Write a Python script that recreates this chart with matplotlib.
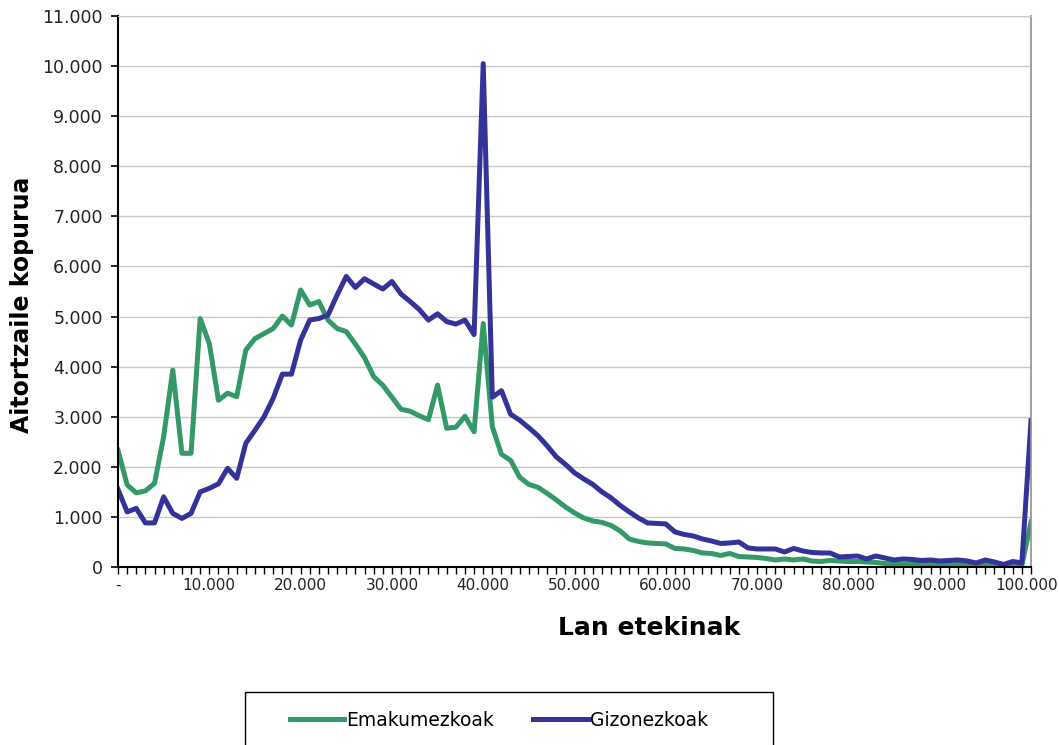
import numpy as np
import matplotlib
matplotlib.use("Agg")
import matplotlib.pyplot as plt
from matplotlib.patches import Rectangle
from matplotlib.ticker import MultipleLocator, FixedLocator
from matplotlib.transforms import ScaledTranslation

# Données : nombre de déclarants par tranche de revenus (pas de 1.000)
lan_etekinak = list(range(0, 101000, 1000))

emakumezkoak = [2330, 1640, 1480, 1520, 1670, 2600, 3930, 2270, 2270, 4960,
                4460, 3330, 3470, 3400, 4330, 4560, 4660, 4760, 5010, 4830,
                5530, 5230, 5300, 4930, 4760, 4700, 4450, 4180, 3800, 3630,
                3390, 3150, 3110, 3020, 2940, 3630, 2770, 2790, 3010, 2700,
                4860, 2800, 2250, 2130, 1790, 1650, 1590, 1470, 1340, 1200,
                1080, 980, 920, 890, 830, 720, 560, 510, 480, 470,
                460, 370, 360, 330, 280, 270, 230, 270, 210, 200,
                190, 170, 140, 160, 140, 160, 120, 110, 130, 120,
                110, 110, 100, 90, 70, 60, 60, 60, 50, 50,
                50, 50, 50, 40, 40, 50, 30, 40, 30, 40,
                900]

gizonezkoak = [1550, 1100, 1170, 880, 880, 1400, 1070, 970, 1070, 1500,
               1570, 1660, 1970, 1770, 2470, 2730, 3000, 3370, 3850, 3850,
               4530, 4930, 4960, 5030, 5430, 5800, 5580, 5755, 5650, 5550,
               5700, 5450, 5300, 5140, 4930, 5055, 4900, 4850, 4930, 4640,
               10050, 3390, 3520, 3050, 2930, 2780, 2620, 2420, 2200, 2050,
               1880, 1760, 1650, 1500, 1380, 1230, 1100, 980, 880, 870,
               860, 700, 650, 620, 560, 520, 470, 480, 500, 380,
               360, 360, 360, 300, 370, 320, 290, 280, 280, 200,
               210, 220, 160, 220, 180, 140, 160, 150, 130, 140,
               120, 130, 140, 120, 80, 140, 100, 50, 110, 80,
               2920]

y_ticks = list(range(0, 12000, 1000))
x_ticks = list(range(0, 110000, 10000))

def eu_format(v):
    # séparateur de milliers avec un point
    return f"{v:,}".replace(",", ".")

fig = plt.figure(figsize=(10.59, 7.45), dpi=100)
ax = fig.add_axes([118 / 1059, 1 - 567 / 745, 913 / 1059, 551 / 745])

# Tracé des courbes
ax.plot(lan_etekinak, emakumezkoak, color="#339966", lw=3.6, label="Emakumezkoak")
ax.plot(lan_etekinak, gizonezkoak, color="#333399", lw=3.6, label="Gizonezkoak")

ax.set_xlim(0, 100000)
ax.set_ylim(0, 11000)

ax.set_yticks(y_ticks)
ax.set_yticklabels([eu_format(v) for v in y_ticks], fontsize=12.5, color="#222222")
ax.xaxis.set_major_locator(FixedLocator(x_ticks))
# "-" pour le zéro, comme dans Excel
ax.set_xticklabels(["-"] + [eu_format(v) for v in x_ticks[1:]], fontsize=11, color="#222222")
ax.xaxis.set_minor_locator(MultipleLocator(1000))

ax.tick_params(axis="y", direction="out", length=5, width=1.2, pad=6)
ax.tick_params(axis="x", which="both", direction="out", length=5, width=1.0, pad=3)

# décaler un peu la dernière étiquette pour qu'elle reste dans l'image
last = ax.get_xticklabels()[-1]
last.set_transform(last.get_transform() + ScaledTranslation(-3 / 72, 0, fig.dpi_scale_trans))

ax.yaxis.grid(True, color="#c8c8c8", lw=1)
ax.set_axisbelow(True)

for s in ["left", "bottom"]:
    ax.spines[s].set_color("black")
    ax.spines[s].set_linewidth(1.5)
ax.spines["right"].set_color("#909090")
ax.spines["right"].set_linewidth(1.2)
ax.spines["top"].set_color("#c8c8c8")

# Titres des axes
fig.text(649 / 1059, 1 - 628 / 745, "Lan etekinak", ha="center", va="center",
         fontsize=18, fontweight="bold")
fig.text(22 / 1059, 1 - 305 / 745, "Aitortzaile kopurua", ha="center", va="center",
         rotation=90, fontsize=17, fontweight="bold")

# Légende en bas (cadre coupé par le bord de la figure)
fig.patches.append(Rectangle((245 / 1059, -0.05), 528 / 1059, 53 / 745 + 0.05,
                             transform=fig.transFigure, fill=False,
                             edgecolor="black", lw=1))
fig.legend(loc="center left", bbox_to_anchor=(273 / 1059, 1 - 720 / 745), ncol=2,
           frameon=False, fontsize=13.5, handlelength=2.9, handletextpad=0.1,
           columnspacing=2.1)

plt.savefig("out.png", dpi=100)
